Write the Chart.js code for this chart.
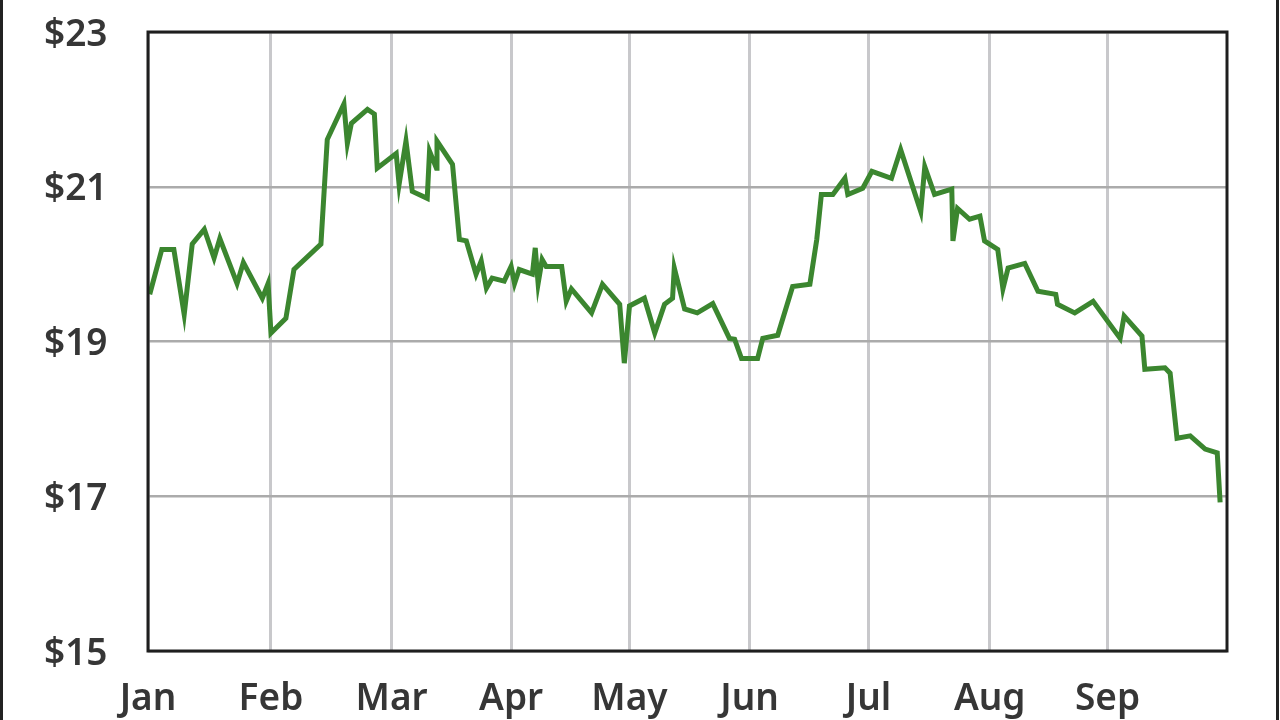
<!DOCTYPE html>
<html>
<head>
<meta charset="utf-8">
<script src="https://cdn.jsdelivr.net/npm/chart.js@4.4.1/dist/chart.umd.min.js"></script>
<style>
  html, body { margin: 0; padding: 0; background: #ffffff; }
  #wrap { position: relative; width: 1280px; height: 720px; overflow: hidden; background: #ffffff; }
  #wrap:before, #wrap:after { content: ""; position: absolute; top: 0; bottom: 0; width: 3px; background: #222; z-index: 2; }
  #wrap:before { left: 0; }
  #wrap:after { left: 1276px; }
  canvas { position: absolute; left: 0; top: 0; }
</style>
</head>
<body>
<div id="wrap"><canvas id="c" width="1280" height="720"></canvas></div>
<script>
// Month labels and where each month begins (trading-day index)
const monthLabels = ["Jan", "Feb", "Mar", "Apr", "May", "Jun", "Jul", "Aug", "Sep"];
const monthStarts = [0, 21.4, 42.4, 63.2, 83.8, 104.7, 125.4, 146.5, 167.0];
const dayMax = 187.8;

// Price ticks
const priceTicks = [15, 17, 19, 21, 23];

// Series: trading-day index and closing price
const dayIndex = [
  0.3, 2.4, 4.5, 6.3, 7.7, 9.8, 11.5, 12.5, 15.5, 16.6, 19.9, 20.9, 21.4, 24.0, 25.4, 30.1,
  31.2, 34.1, 34.7, 35.4, 38.2, 39.4, 39.9, 43.2, 43.7, 44.9, 46.0, 48.6, 49.0, 50.2, 50.3, 53.0,
  54.2, 55.4, 57.1, 58.0, 58.9, 59.9, 62.0, 63.2, 63.8, 64.6, 66.9, 67.4, 67.9, 68.6, 69.3, 72.0,
  72.8, 73.7, 77.2, 79.1, 82.1, 82.9, 83.8, 86.4, 88.2, 89.9, 91.3, 91.6, 93.4, 95.6, 98.3,
  101.2, 102.1, 103.3, 106.1, 107.0, 109.6, 112.2, 115.2, 116.4, 117.2, 119.2, 121.3, 121.8,
  124.4, 126.0, 129.4, 131.0, 134.5, 135.2, 136.9, 139.9, 140.1, 140.9, 143.0, 144.8, 145.6,
  147.9, 148.8, 149.7, 152.6, 154.9, 158.0, 158.3, 161.3, 164.5, 169.2, 169.9, 173.0, 173.5,
  177.0, 177.9, 179.1, 181.4, 184.0, 186.1, 186.6
];
const closePrice = [
  19.61, 20.19, 20.19, 19.35, 20.26, 20.45, 20.08, 20.33, 19.75, 20.02, 19.56, 19.75, 19.11, 19.30, 19.93, 20.26,
  21.61, 22.07, 21.56, 21.82, 22.00, 21.94, 21.24, 21.43, 21.03, 21.59, 20.94, 20.85, 21.46, 21.24, 21.59, 21.29,
  20.32, 20.30, 19.87, 20.04, 19.69, 19.82, 19.78, 19.97, 19.75, 19.93, 19.87, 20.21, 19.75, 20.06, 19.97, 19.97,
  19.52, 19.68, 19.37, 19.74, 19.48, 18.72, 19.46, 19.56, 19.11, 19.48, 19.56, 19.95, 19.42, 19.37, 19.49,
  19.04, 19.03, 18.78, 18.78, 19.04, 19.08, 19.71, 19.74, 20.32, 20.90, 20.90, 21.11, 20.90,
  20.98, 21.20, 21.11, 21.48, 20.68, 21.26, 20.90, 20.97, 20.30, 20.72, 20.58, 20.62, 20.30,
  20.19, 19.68, 19.95, 20.01, 19.65, 19.61, 19.48, 19.37, 19.52, 19.04, 19.33, 19.07, 18.64,
  18.66, 18.59, 17.75, 17.78, 17.61, 17.56, 16.92
];

const points = dayIndex.map((d, i) => ({ x: d, y: closePrice[i] }));

const frame = {
  id: 'frame',
  afterDatasetsDraw(chart) {
    const { ctx, chartArea: a } = chart;
    ctx.save();
    ctx.strokeStyle = '#1e1e1e';
    ctx.lineWidth = 3;
    ctx.strokeRect(a.left, a.top, a.right - a.left, a.bottom - a.top);
    ctx.restore();
  }
};

const FONT = { family: "'Noto Sans', 'Open Sans', sans-serif", size: 37, weight: '600' };

new Chart(document.getElementById('c'), {
  type: 'line',
  data: {
    datasets: [{
      data: points,
      borderColor: '#3b862f',
      borderWidth: 5,
      pointRadius: 0,
      tension: 0,
      fill: false
    }]
  },
  options: {
    responsive: false,
    devicePixelRatio: 1,
    animation: false,
    events: [],
    layout: { padding: { top: 32, right: 53, left: 44, bottom: 0 } },
    plugins: { legend: { display: false }, tooltip: { enabled: false } },
    scales: {
      x: {
        type: 'linear',
        min: 0,
        max: dayMax,
        afterBuildTicks(scale) { scale.ticks = monthStarts.map(v => ({ value: v })); },
        afterFit(scale) { scale.height = 69; },
        ticks: {
          autoSkip: false,
          maxRotation: 0,
          padding: 26,
          color: '#363636',
          font: FONT,
          callback(value) {
            const i = monthStarts.indexOf(value);
            return i >= 0 ? monthLabels[i] : '';
          }
        },
        grid: { color: '#c8c8cb', lineWidth: 3, drawTicks: false },
        border: { display: false }
      },
      y: {
        min: priceTicks[0],
        max: priceTicks[priceTicks.length - 1],
        afterBuildTicks(scale) { scale.ticks = priceTicks.map(v => ({ value: v })); },
        afterFit(scale) { scale.width = 104; },
        ticks: {
          padding: 0,
          crossAlign: 'far',
          labelOffset: 3,
          color: '#363636',
          font: FONT,
          callback(value) { return '$' + value; }
        },
        grid: { color: '#ababab', lineWidth: 2.5, drawTicks: false },
        border: { display: false }
      }
    }
  },
  plugins: [frame]
});
</script>
</body>
</html>
